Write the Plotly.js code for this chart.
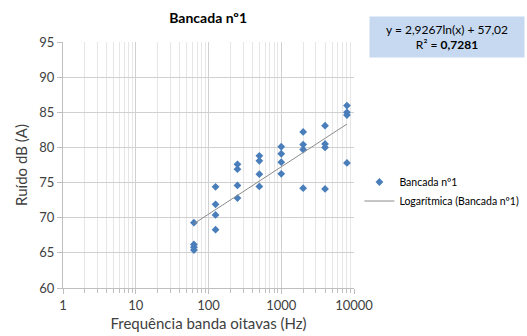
<!DOCTYPE html>
<html><head><meta charset="utf-8">
<script src="https://cdn.plot.ly/plotly-3.0.1.min.js"></script>
<style>html,body{margin:0;padding:0;background:#fff}#c{width:527px;height:336px}</style>
</head><body><div id="c"></div>
<script>
const freqs = [63,63,63,63,125,125,125,125,250,250,250,250,500,500,500,500,1000,1000,1000,1000,2000,2000,2000,2000,4000,4000,4000,4000,8000,8000,8000,8000];
const noise = [69.3,66.2,65.8,65.4,74.4,71.9,70.4,68.3,77.6,76.9,74.6,72.8,78.8,78.1,76.2,74.45,80.1,79.1,77.9,76.25,82.2,80.4,79.7,74.2,83.1,80.5,80.0,74.1,85.95,85.0,84.6,77.8];
const trendX = [63, 8000];
const trendY = [69.15, 83.32];
const xTickVals = [1,10,100,1000,10000];
const xTickText = ['1','10','100','1000','10000'];
const seriesName = 'Bancada nº1';
const trendName = 'Logarítmica (Bancada nº1)';
const eqText = 'y = 2,9267ln(x) + 57,02<br>R² = <b>0,7281</b>';

const font = 'Lato, "Open Sans", sans-serif';
const data = [
  {x: freqs, y: noise, mode:'markers', type:'scatter', name: seriesName,
   marker:{symbol:'diamond', size:6, color:'#4a7ebb'}},
  {x: trendX, y: trendY, mode:'lines', type:'scatter', name: trendName,
   line:{color:'#8c8c8c', width:1}}
];
const layout = {
  width:527, height:336,
  margin:{l:63, r:173, t:42, b:48, autoexpand:false},
  paper_bgcolor:'#fff', plot_bgcolor:'#fff',
  font:{family:font, color:'#404040', size:12},
  showlegend:true,
  title:{text:'<b>Bancada nº1</b>', font:{family:font, size:14, color:'#000'}, x:0.395, xanchor:'center', y:0.945, yanchor:'middle'},
  xaxis:{type:'log', range:[0,4], tickvals:xTickVals, ticktext:xTickText,
    showgrid:true, gridcolor:'#d0d0d0', gridwidth:1,
    minor:{dtick:'D1', showgrid:true, gridcolor:'#e6e6e6', ticks:'outside', ticklen:4, tickcolor:'#bfbfbf'},
    ticks:'outside', ticklen:5, tickcolor:'#bfbfbf',
    showline:true, linecolor:'#bfbfbf', zeroline:false,
    tickfont:{size:13, color:'#404040'},
    title:{text:'Frequência banda oitavas (Hz)', font:{size:15, color:'#404040'}, standoff:6}},
  yaxis:{range:[60,95], dtick:5, tick0:60, showgrid:true, gridcolor:'#d0d0d0',
    ticks:'outside', ticklen:5, tickcolor:'#bfbfbf',
    showline:true, linecolor:'#bfbfbf', zeroline:false,
    tickfont:{size:13, color:'#404040'},
    title:{text:'Ruído dB (A)', font:{size:15, color:'#404040'}, standoff:8}},
  legend:{xref:'container', yref:'container', x:0.682, y:0.43, xanchor:'left', yanchor:'middle', font:{size:10.5, color:'#000'},
    bgcolor:'rgba(0,0,0,0)', tracegroupgap:2, itemwidth:30},
  annotations:[{xref:'paper', yref:'paper', x:1.32, y:1.02, xanchor:'center', yanchor:'middle',
    text:eqText, showarrow:false, bgcolor:'#c6d9f1', align:'center',
    font:{size:12, color:'#000', family:font}, borderpad:3, width:148, height:34}]
};
Plotly.newPlot('c', data, layout, {displayModeBar:false, staticPlot:true});
</script></body></html>
